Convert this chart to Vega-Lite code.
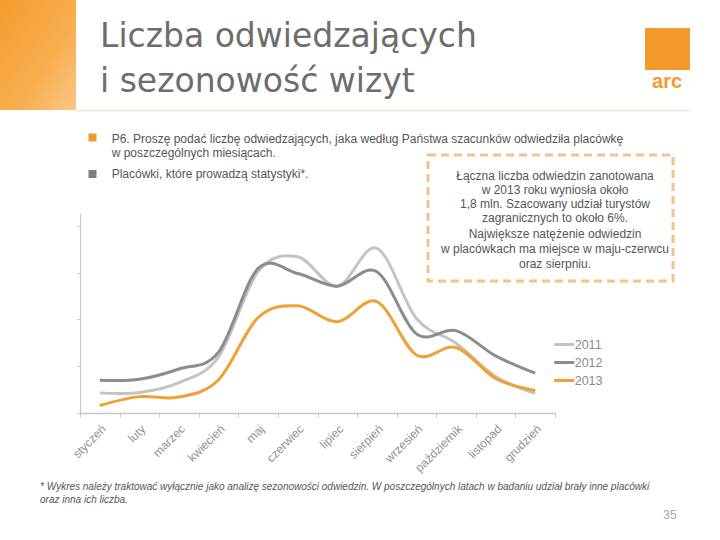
{
  "$schema": "https://vega.github.io/schema/vega-lite/v6.json",
  "width": 475,
  "height": 200,
  "autosize": {"type": "none"},
  "padding": {"left": 80, "top": 213, "right": 165, "bottom": 127},
  "background": "white",
  "config": {"view": {"stroke": null}, "font": "Liberation Sans"},
  "title": {
    "text": ["Liczba odwiedzających", "i sezonowość wizyt"],
    "anchor": "start",
    "frame": "group",
    "font": "DejaVu Sans",
    "fontSize": 33,
    "fontWeight": "normal",
    "color": "#6d6d6d",
    "lineHeight": 45,
    "offset": 0,
    "dx": 20,
    "dy": 99
  },
  "resolve": {"axis": {"x": "independent", "y": "independent"}},
  "data": {
    "values": [
      {"month": "styczeń", "year": "2011", "value": 0.43},
      {"month": "luty", "year": "2011", "value": 0.44},
      {"month": "marzec", "year": "2011", "value": 0.65},
      {"month": "kwiecień", "year": "2011", "value": 1.2},
      {"month": "maj", "year": "2011", "value": 3.02},
      {"month": "czerwiec", "year": "2011", "value": 3.34},
      {"month": "lipiec", "year": "2011", "value": 2.71},
      {"month": "sierpień", "year": "2011", "value": 3.52},
      {"month": "wrzesień", "year": "2011", "value": 2.02},
      {"month": "październik", "year": "2011", "value": 1.49},
      {"month": "listopad", "year": "2011", "value": 0.78},
      {"month": "grudzień", "year": "2011", "value": 0.42},
      {"month": "styczeń", "year": "2012", "value": 0.7},
      {"month": "luty", "year": "2012", "value": 0.72},
      {"month": "marzec", "year": "2012", "value": 0.94},
      {"month": "kwiecień", "year": "2012", "value": 1.3},
      {"month": "maj", "year": "2012", "value": 3.09},
      {"month": "czerwiec", "year": "2012", "value": 2.98},
      {"month": "lipiec", "year": "2012", "value": 2.71},
      {"month": "sierpień", "year": "2012", "value": 3.02},
      {"month": "wrzesień", "year": "2012", "value": 1.69},
      {"month": "październik", "year": "2012", "value": 1.76},
      {"month": "listopad", "year": "2012", "value": 1.22},
      {"month": "grudzień", "year": "2012", "value": 0.85},
      {"month": "styczeń", "year": "2013", "value": 0.16},
      {"month": "luty", "year": "2013", "value": 0.35},
      {"month": "marzec", "year": "2013", "value": 0.34},
      {"month": "kwiecień", "year": "2013", "value": 0.71},
      {"month": "maj", "year": "2013", "value": 2.04},
      {"month": "czerwiec", "year": "2013", "value": 2.29},
      {"month": "lipiec", "year": "2013", "value": 1.95},
      {"month": "sierpień", "year": "2013", "value": 2.38},
      {"month": "wrzesień", "year": "2013", "value": 1.24},
      {"month": "październik", "year": "2013", "value": 1.4},
      {"month": "listopad", "year": "2013", "value": 0.74},
      {"month": "grudzień", "year": "2013", "value": 0.48}
    ]
  },
  "layer": [
    {
      "mark": {"type": "line", "interpolate": "cardinal", "strokeWidth": 3},
      "encoding": {
        "x": {
          "field": "month", "type": "nominal", "bandPosition": 0.5,
          "scale": {"type": "band", "domain": ["styczeń", "luty", "marzec", "kwiecień", "maj", "czerwiec", "lipiec", "sierpień", "wrzesień", "październik", "listopad", "grudzień"], "paddingInner": 0, "paddingOuter": 0},
          "axis": {"title": null, "orient": "bottom", "tickBand": "extent", "labelAngle": -45, "labelFontSize": 12, "labelColor": "#909090", "labelFont": "Liberation Sans", "domainColor": "#c8c8c8", "domainWidth": 1.5, "tickColor": "#c8c8c8", "tickSize": 4, "labelPadding": 6, "grid": false}
        },
        "y": {
          "field": "value", "type": "quantitative",
          "scale": {"domain": [0, 4.2735], "nice": false, "zero": false},
          "axis": {"title": null, "orient": "left", "labels": false, "values": [0, 1, 2, 3, 4], "grid": false, "domainColor": "#c8c8c8", "tickColor": "#c8c8c8", "tickSize": 3}
        },
        "color": {
          "field": "year", "type": "nominal",
          "scale": {"domain": ["2011", "2012", "2013"], "range": ["#c4c4c4", "#8c8c8c", "#F0A035"]},
          "legend": {"orient": "none", "legendX": 472.7, "legendY": 120, "title": null, "symbolType": "stroke", "symbolSize": 400, "symbolStrokeWidth": 3, "labelFontSize": 12.5, "labelColor": "#8a8a8a", "labelFont": "Liberation Sans", "labelOffset": -1, "rowPadding": 0, "padding": 0}
        }
      }
    },
    {
      "data": {"values": [{}]},
      "mark": {"type": "rect", "fill": {"gradient": "linear", "x1": 0, "y1": 0, "x2": 1, "y2": 1, "stops": [{"offset": 0, "color": "#F59B2E"}, {"offset": 0.6, "color": "#F8AE50"}, {"offset": 1, "color": "#FBC785"}]}},
      "encoding": {
        "x": {"datum": "styczeń", "type": "nominal", "bandPosition": -2.021, "axis": null},
        "x2": {"datum": "styczeń", "bandPosition": -0.101},
        "y": {"datum": 8.825, "type": "quantitative", "axis": null},
        "y2": {"datum": 6.474}
      }
    },
    {
      "data": {"values": [{}]},
      "mark": {"type": "rule", "color": "#eee5da", "strokeWidth": 1.5},
      "encoding": {
        "x": {"datum": "styczeń", "type": "nominal", "bandPosition": -0.101, "axis": null},
        "x2": {"datum": "grudzień", "bandPosition": 4.41},
        "y": {"datum": 6.464, "type": "quantitative", "axis": null}
      }
    },
    {
      "data": {"values": [{}]},
      "mark": {"type": "rect", "color": "#F39A2B"},
      "encoding": {
        "x": {"datum": "grudzień", "type": "nominal", "bandPosition": 3.274, "axis": null},
        "x2": {"datum": "grudzień", "bandPosition": 4.41},
        "y": {"datum": 8.226, "type": "quantitative", "axis": null},
        "y2": {"datum": 7.329}
      }
    },
    {
      "data": {"values": [{}]},
      "mark": {"type": "text", "text": "arc", "align": "center", "baseline": "alphabetic", "fontSize": 20, "fontWeight": "bold", "color": "#F39A2B"},
      "encoding": {
        "x": {"datum": "grudzień", "type": "nominal", "bandPosition": 3.83, "axis": null},
        "y": {"datum": 6.944, "type": "quantitative", "axis": null}
      }
    },
    {
      "data": {"values": [{}]},
      "mark": {"type": "square", "size": 64, "filled": true, "opacity": 1, "color": "#F39A2B"},
      "encoding": {
        "x": {"datum": "styczeń", "type": "nominal", "bandPosition": 0.316, "axis": null},
        "y": {"datum": 5.887, "type": "quantitative", "axis": null}
      }
    },
    {
      "data": {"values": [{}]},
      "mark": {"type": "square", "size": 64, "filled": true, "opacity": 1, "color": "#7f7f7f"},
      "encoding": {
        "x": {"datum": "styczeń", "type": "nominal", "bandPosition": 0.316, "axis": null},
        "y": {"datum": 5.107, "type": "quantitative", "axis": null}
      }
    },
    {
      "data": {"values": [{}]},
      "mark": {"type": "text", "text": ["P6. Proszę podać liczbę odwiedzających, jaka według Państwa szacunków odwiedziła placówkę", "w poszczególnych miesiącach."], "align": "left", "baseline": "alphabetic", "fontSize": 12, "lineHeight": 13.4, "color": "#555555"},
      "encoding": {
        "x": {"datum": "styczeń", "type": "nominal", "bandPosition": 0.8, "axis": null},
        "y": {"datum": 5.763, "type": "quantitative", "axis": null}
      }
    },
    {
      "data": {"values": [{}]},
      "mark": {"type": "text", "text": "Placówki, które prowadzą statystyki*.", "align": "left", "baseline": "alphabetic", "fontSize": 12, "color": "#555555"},
      "encoding": {
        "x": {"datum": "styczeń", "type": "nominal", "bandPosition": 0.8, "axis": null},
        "y": {"datum": 5.015, "type": "quantitative", "axis": null}
      }
    },
    {
      "data": {"values": [{}]},
      "mark": {"type": "rect", "fill": null, "fillOpacity": 0, "stroke": "#F3C28C", "strokeWidth": 3, "strokeDash": [8, 5]},
      "encoding": {
        "x": {"datum": "październik", "type": "nominal", "bandPosition": -0.208, "axis": null},
        "x2": {"datum": "grudzień", "bandPosition": 3.981},
        "y": {"datum": 5.513, "type": "quantitative", "axis": null},
        "y2": {"datum": 2.821}
      }
    },
    {
      "data": {"values": [{}]},
      "mark": {"type": "text", "text": ["Łączna liczba odwiedzin zanotowana", "w 2013 roku wyniosła około", "1,8 mln. Szacowany udział turystów", "zagranicznych to około 6%."], "align": "center", "baseline": "alphabetic", "fontSize": 12, "lineHeight": 14, "color": "#555555"},
      "encoding": {
        "x": {"datum": "grudzień", "type": "nominal", "bandPosition": 1, "axis": null},
        "y": {"datum": 4.989, "type": "quantitative", "axis": null}
      }
    },
    {
      "data": {"values": [{}]},
      "mark": {"type": "text", "text": ["Największe natężenie odwiedzin", "w placówkach ma miejsce w maju-czerwcu", "oraz sierpniu."], "align": "center", "baseline": "alphabetic", "fontSize": 12, "lineHeight": 15, "color": "#555555"},
      "encoding": {
        "x": {"datum": "grudzień", "type": "nominal", "bandPosition": 1, "axis": null},
        "y": {"datum": 3.739, "type": "quantitative", "axis": null}
      }
    },
    {
      "data": {"values": [{}]},
      "mark": {"type": "text", "text": ["* Wykres należy traktować wyłącznie jako analizę sezonowości odwiedzin. W poszczególnych latach w badaniu udział brały inne placówki", "oraz inna ich liczba."], "align": "left", "baseline": "alphabetic", "fontSize": 10, "fontStyle": "italic", "lineHeight": 13, "color": "#555555"},
      "encoding": {
        "x": {"datum": "styczeń", "type": "nominal", "bandPosition": -1.01, "axis": null},
        "y": {"datum": -1.645, "type": "quantitative", "axis": null}
      }
    },
    {
      "data": {"values": [{}]},
      "mark": {"type": "text", "text": "35", "align": "center", "baseline": "alphabetic", "fontSize": 12, "color": "#a8a8a8"},
      "encoding": {
        "x": {"datum": "grudzień", "type": "nominal", "bandPosition": 3.905, "axis": null},
        "y": {"datum": -2.265, "type": "quantitative", "axis": null}
      }
    }
  ]
}
